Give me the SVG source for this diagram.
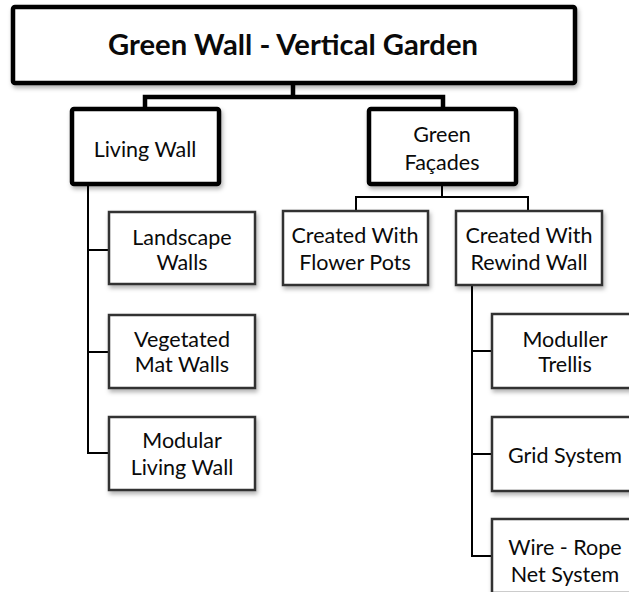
<svg xmlns="http://www.w3.org/2000/svg" width="629" height="592" viewBox="0 0 629 592">
<style>
text{font-family:Lato,"Liberation Sans",sans-serif;font-size:21.5px;fill:#0a0a0a;text-anchor:middle}
.t{font-weight:bold;font-size:28px}
.b1{fill:#fff;stroke:#000;stroke-width:4.5}
.b2{fill:#fff;stroke:#000;stroke-width:4.5}
.b3{fill:#fff;stroke:#333;stroke-width:2.5}
.c1{fill:none;stroke:#000;stroke-width:4.5}
.c2{fill:none;stroke:#000;stroke-width:2}
</style>
<defs>
<filter id="sh" x="-10%" y="-10%" width="130%" height="140%">
<feDropShadow dx="1.5" dy="3" stdDeviation="2" flood-color="#000" flood-opacity="0.3"/>
</filter>
</defs>
<g id="connectors">
<path class="c1" d="M293,83 V97 M145,109 V97 H443 V109"/>
<path class="c2" d="M442,184 V197 M356,211 V197 H528 V211"/>
<path class="c2" d="M88,185 V453 H109 M88,250 H109 M88,352 H109"/>
<path class="c2" d="M472,285 V556 H492 M472,351 H492 M472,454 H492"/>
</g>
<g id="root"><rect class="b1" x="13" y="7" width="562" height="76" rx="2" filter="url(#sh)"/><text class="t" x="293" y="55" textLength="370" lengthAdjust="spacingAndGlyphs">Green Wall - Vertical Garden</text></g>
<g id="living-wall"><rect class="b2" x="72" y="109" width="147" height="75" rx="2" filter="url(#sh)"/><text x="145" y="157">Living Wall</text></g>
<g id="green-facades"><rect class="b2" x="369" y="109" width="147" height="75" rx="2" filter="url(#sh)"/><text x="442" y="142">Green</text><text x="442" y="170">Façades</text></g>
<g id="flower-pots"><rect class="b3" x="283" y="211" width="145" height="74" filter="url(#sh)"/><text x="355" y="243">Created With</text><text x="355" y="270">Flower Pots</text></g>
<g id="rewind-wall"><rect class="b3" x="456" y="211" width="146" height="74" filter="url(#sh)"/><text x="529" y="243">Created With</text><text x="529" y="270">Rewind Wall</text></g>
<g id="landscape"><rect class="b3" x="109" y="212" width="146" height="72" filter="url(#sh)"/><text x="182" y="245">Landscape</text><text x="182" y="270">Walls</text></g>
<g id="vegetated"><rect class="b3" x="109" y="315" width="146" height="73" filter="url(#sh)"/><text x="182" y="347">Vegetated</text><text x="182" y="372">Mat Walls</text></g>
<g id="modular"><rect class="b3" x="109" y="417" width="146" height="73" filter="url(#sh)"/><text x="182" y="448">Modular</text><text x="182" y="475">Living Wall</text></g>
<g id="trellis"><rect class="b3" x="492" y="314" width="146" height="74" filter="url(#sh)"/><text x="565" y="347">Moduller</text><text x="565" y="372">Trellis</text></g>
<g id="grid"><rect class="b3" x="492" y="417" width="146" height="74" filter="url(#sh)"/><text x="565" y="463">Grid System</text></g>
<g id="wire"><rect class="b3" x="492" y="519" width="146" height="74" filter="url(#sh)"/><text x="565" y="555">Wire - Rope</text><text x="565" y="582">Net System</text></g>
</svg>
